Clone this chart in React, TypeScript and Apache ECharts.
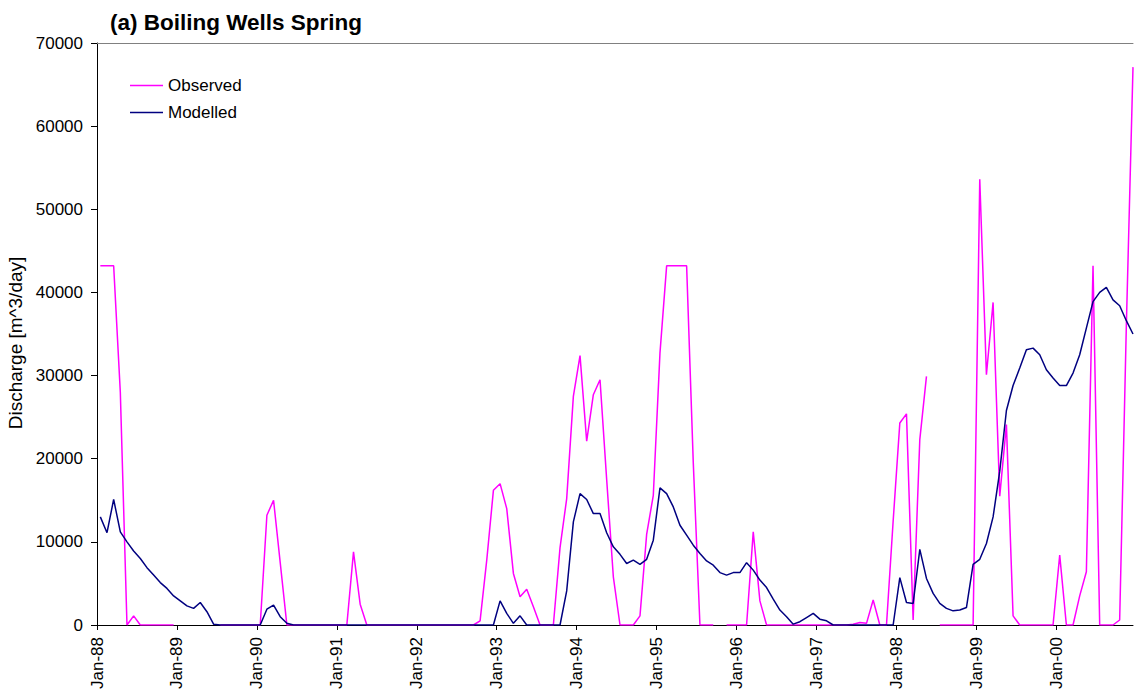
import React, { useEffect, useRef } from "react";
import * as echarts from "echarts";

// Monthly values, Jan-88 .. Dec-00 (156 months). null = no observation.
const observed: (number | null)[] = [
  // 1988
  43200, 43200, 43200, 28000, 0, 1100, 0, 0, 0, 0, 0, 0,
  // 1989
  null, null, null, null, null, null, 0, 0, 0, 0, 0, 0,
  // 1990
  0, 13200, 15000, 7500, 0, 0, 0, 0, 0, 0, 0, 0,
  // 1991
  0, 0, 8800, 2500, 0, 0, 0, 0, 0, 0, 0, 0,
  // 1992
  0, 0, 0, 0, 0, 0, 0, 0, 0, 500, 7800, 16200,
  // 1993
  17000, 14000, 6200, 3400, 4300, 2200, 0, 0, 0, 9300, 15200, 27500,
  // 1994
  32400, 22100, 27700, 29500, 17500, 5800, 0, 0, 0, 1100, 10900, 15600,
  // 1995
  32700, 43200, 43200, 43200, 43200, 19500, 0, 0, 0, null, 0, 0,
  // 1996
  0, 0, 11200, 2900, 0, 0, 0, 0, 0, 0, 0, 0,
  // 1997
  0, 0, 0, 0, 0, 100, 300, 200, 3000, 0, 0, 12500,
  // 1998
  24300, 25400, 600, 22300, 29900, null, 0, 0, 0, 0, 0, 0,
  // 1999
  53600, 30100, 38800, 15500, 24100, 1100, 0, 0, 0, 0, 0, 0,
  // 2000
  8400, 0, 0, 3500, 6400, 43200, 0, 0, 0, 600, 36000, 67100,
];

const modelled: number[] = [
  // 1988
  13000, 11100, 15100, 11200, 10000, 8900, 8000, 6900, 6000, 5100, 4400, 3500,
  // 1989
  2900, 2300, 2000, 2700, 1600, 100, 0, 0, 0, 0, 0, 0,
  // 1990
  0, 1900, 2400, 1000, 200, 0, 0, 0, 0, 0, 0, 0,
  // 1991
  0, 0, 0, 0, 0, 0, 0, 0, 0, 0, 0, 0,
  // 1992
  0, 0, 0, 0, 0, 0, 0, 0, 0, 0, 0, 0,
  // 1993
  2900, 1400, 200, 1100, 0, 0, 0, 0, 0, 0, 4100, 12400,
  // 1994
  15800, 15100, 13400, 13400, 11100, 9400, 8500, 7400, 7800, 7300, 7900, 10200,
  // 1995
  16500, 15800, 14200, 12000, 10800, 9600, 8600, 7700, 7200, 6300, 6000, 6300,
  // 1996
  6300, 7500, 6600, 5400, 4500, 3100, 1800, 1000, 100, 400, 900, 1400,
  // 1997
  700, 500, 0, 0, 0, 0, 0, 0, 0, 0, 0, 0,
  // 1998
  5700, 2700, 2600, 9100, 5600, 3800, 2600, 2000, 1700, 1800, 2100, 7300,
  // 1999
  7900, 9800, 13000, 18500, 25800, 28800, 30900, 33100, 33300, 32500, 30700, 29700,
  // 2000
  28800, 28800, 30300, 32500, 35700, 38900, 40000, 40600, 39100, 38400, 36600, 35000,
];

const yearLabels: string[] = [
  "Jan-88", "Jan-89", "Jan-90", "Jan-91", "Jan-92", "Jan-93", "Jan-94",
  "Jan-95", "Jan-96", "Jan-97", "Jan-98", "Jan-99", "Jan-00",
];

const FONT = "'Liberation Sans', Arial, sans-serif";

export default function App() {
  const ref = useRef<HTMLDivElement>(null);

  useEffect(() => {
    if (!ref.current) return;
    const chart = echarts.init(ref.current, null, { renderer: "svg" });
    const tickValues = yearLabels.map((_, k) => k * 12);
    const xMax = observed.length - 0.5;
    const toPoints = (arr: (number | null)[]) =>
      arr.map((v, i) => [i + 0.5, v === null ? "-" : v]);

    chart.setOption({
      animation: false,
      backgroundColor: "#ffffff",
      title: {
        text: "(a) Boiling Wells Spring",
        left: 105,
        top: 6,
        textStyle: {
          fontFamily: FONT,
          fontSize: 22.5,
          fontWeight: "bold",
          color: "#000000",
        },
      },
      legend: {
        orient: "vertical",
        left: 125,
        top: 72,
        icon: "rect",
        itemWidth: 33,
        itemHeight: 1.5,
        itemGap: 10,
        textStyle: {
          fontFamily: FONT,
          fontSize: 17,
          color: "#000000",
        },
        data: ["Observed", "Modelled"],
      },
      grid: {
        left: 97,
        right: 1,
        top: 43,
        bottom: 70,
        containLabel: false,
        outerBoundsMode: "none",
      },
      xAxis: [
        {
          type: "value",
          min: 0,
          max: xMax,
          interval: 12,
          axisLine: { show: true, lineStyle: { color: "#000000", width: 1 } },
          axisTick: {
            show: true,
            length: 5,
            inside: false,
            customValues: tickValues,
            lineStyle: { color: "#000000" },
          },
          axisLabel: {
            show: true,
            rotate: 90,
            margin: 12,
            customValues: tickValues,
            fontFamily: FONT,
            fontSize: 17,
            color: "#000000",
            formatter: (v: number) => yearLabels[Math.round(v / 12)] ?? "",
          },
          splitLine: { show: false },
        },
        {
          type: "value",
          position: "top",
          min: 0,
          max: xMax,
          axisLine: { show: true, lineStyle: { color: "#808080", width: 1 } },
          axisTick: { show: false },
          axisLabel: { show: false },
          splitLine: { show: false },
        },
      ],
      yAxis: {
        type: "value",
        min: 0,
        max: 70000,
        interval: 10000,
        name: "Discharge [m^3/day]",
        nameLocation: "middle",
        nameRotate: 90,
        nameGap: 64,
        nameTextStyle: {
          fontFamily: FONT,
          fontSize: 19,
          color: "#000000",
          padding: [0, 18, 0, 0],
        },
        axisLine: { show: true, lineStyle: { color: "#000000", width: 1 } },
        axisTick: { show: true, length: 6, inside: false, lineStyle: { color: "#000000" } },
        axisLabel: {
          fontFamily: FONT,
          fontSize: 17,
          color: "#000000",
          margin: 14,
          formatter: (v: number) => String(v),
        },
        splitLine: { show: false },
      },
      series: [
        {
          name: "Observed",
          type: "line",
          xAxisIndex: 0,
          data: toPoints(observed),
          symbol: "none",
          showSymbol: false,
          connectNulls: false,
          lineStyle: { color: "#FF00FF", width: 1.5 },
          itemStyle: { color: "#FF00FF" },
        },
        {
          name: "Modelled",
          type: "line",
          xAxisIndex: 0,
          data: toPoints(modelled),
          symbol: "none",
          showSymbol: false,
          lineStyle: { color: "#000080", width: 1.5 },
          itemStyle: { color: "#000080" },
        },
      ],
    });
    return () => chart.dispose();
  }, []);

  return (
    <div
      ref={ref}
      style={{ position: "fixed", left: 0, top: 0, width: 1134, height: 695 }}
    />
  );
}
